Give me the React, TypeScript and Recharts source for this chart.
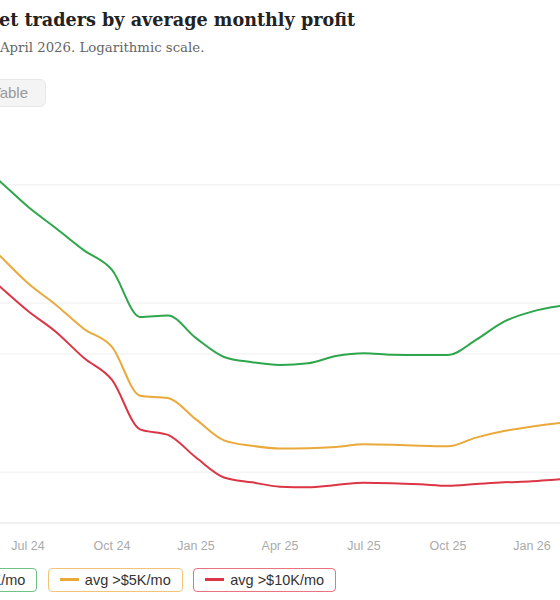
import { LineChart, Line, XAxis, YAxis, CartesianGrid } from 'recharts';

// monthly counts of traders, May 2024 - April 2026
const months = [
  'May 24', 'Jun 24', 'Jul 24', 'Aug 24', 'Sep 24', 'Oct 24', 'Nov 24', 'Dec 24',
  'Jan 25', 'Feb 25', 'Mar 25', 'Apr 25', 'May 25', 'Jun 25', 'Jul 25', 'Aug 25',
  'Sep 25', 'Oct 25', 'Nov 25', 'Dec 25', 'Jan 26', 'Feb 26', 'Mar 26', 'Apr 26',
];
const over1k = [720, 524, 371, 277, 205, 157, 82.8, 84.5, 62, 48, 44.7, 43, 44, 48.6, 50.5, 49.5, 49.3, 49.3, 60.5, 77.6, 89, 96, 100, 102];
const over5k = [278, 190, 131, 97.5, 70.3, 55, 28.3, 27.4, 20.5, 15.4, 14.3, 13.8, 13.85, 14.1, 14.6, 14.5, 14.3, 14.2, 16, 17.5, 18.6, 19.5, 20.1, 20.7];
const over10k = [175, 125, 89.8, 67.5, 47.3, 35.1, 17.9, 16.6, 12.2, 9.3, 8.7, 8.2, 8.13, 8.4, 8.66, 8.6, 8.47, 8.3, 8.5, 8.7, 8.82, 9.07, 9.2, 9.3];

const yTicks = [10, 50, 100, 500];
const xTickLabels = ['Jul 24', 'Oct 24', 'Jan 25', 'Apr 25', 'Jul 25', 'Oct 25', 'Jan 26', 'Apr 26'];

const series = [
  { key: 'k1', name: 'avg >$1K/mo', color: '#2ea64b' },
  { key: 'k5', name: 'avg >$5K/mo', color: '#eaa93a' },
  { key: 'k10', name: 'avg >$10K/mo', color: '#dc3545' },
];

const data = months.map((m, i) => ({ i, month: m, k1: over1k[i], k5: over5k[i], k10: over10k[i] }));
const xTicks = xTickLabels.map(l => months.indexOf(l));

const sans = '"Liberation Sans", Arial, sans-serif';
const serif = '"DejaVu Serif", Georgia, serif';

export default function App() {
  return (
    <div style={{ position: 'fixed', top: 0, left: 0, width: 560, height: 600, overflow: 'hidden', background: '#fff' }}>
      <div style={{ position: 'absolute', left: -1, top: 8, whiteSpace: 'nowrap', fontFamily: serif, fontWeight: 700, fontSize: 17.6, lineHeight: '24px', color: '#222' }}>
        <span style={{ position: 'absolute', right: '100%' }}>Prediction mark</span>et traders by average monthly profit
      </div>
      <div style={{ position: 'absolute', left: 0, top: 38, whiteSpace: 'nowrap', fontFamily: serif, fontSize: 13.3, lineHeight: '20px', color: '#666' }}>
        <span style={{ position: 'absolute', right: '100%' }}>Monthly count, May 2024 to&nbsp;</span>April 2026. Logarithmic scale.
      </div>
      <div style={{ position: 'absolute', right: 514, top: 79, display: 'flex', gap: 6 }}>
        <div style={{ height: 26, lineHeight: '26px', padding: '0 17px', fontFamily: sans, fontSize: 15, color: '#fff', background: '#333', border: '1px solid #333', borderRadius: 6 }}>Chart</div>
        <div style={{ height: 26, lineHeight: '26px', padding: '0 17px', fontFamily: sans, fontSize: 15, color: '#999', background: '#f4f4f4', border: '1px solid #e8e8e8', borderRadius: 6 }}>Table</div>
      </div>

      <div style={{ position: 'absolute', left: -88.5, top: 124 }}>
        <LineChart width={714} height={439} data={data} margin={{ top: 10, right: 10, bottom: 0, left: 0 }}>
          <CartesianGrid vertical={false} horizontalValues={yTicks} stroke="#eeeeee" />
          <XAxis
            type="number"
            dataKey="i"
            domain={[0, months.length - 1]}
            ticks={xTicks}
            tickFormatter={(v: number) => months[v]}
            stroke="#e2e2e2"
            tickLine={false}
            tickSize={0}
            tickMargin={18.6}
            height={40}
            tick={{ fill: '#aaa', fontSize: 12.5, fontFamily: sans }}
          />
          <YAxis
            type="number"
            scale="log"
            domain={[5, 1000]}
            allowDataOverflow
            ticks={yTicks}
            width={60}
            axisLine={false}
            tickLine={false}
            tick={{ fill: '#aaa', fontSize: 12.5, fontFamily: sans }}
          />
          {series.map(s => (
            <Line key={s.key} type="monotone" dataKey={s.key} name={s.name} stroke={s.color} strokeWidth={2} dot={false} isAnimationActive={false} />
          ))}
        </LineChart>
      </div>

      <div style={{ position: 'absolute', left: -97.5, top: 567.5, display: 'flex', gap: 10.5 }}>
        {series.map(s => (
          <div key={s.key} style={{ display: 'flex', alignItems: 'center', height: 22, padding: '0 11px', border: `1px solid ${s.color}b0`, borderRadius: 4, fontFamily: sans, fontSize: 14.5, color: '#333', whiteSpace: 'nowrap' }}>
            <span style={{ display: 'inline-block', width: 19, height: 3, background: s.color, marginRight: 6 }} />
            {s.name}
          </div>
        ))}
      </div>
    </div>
  );
}
